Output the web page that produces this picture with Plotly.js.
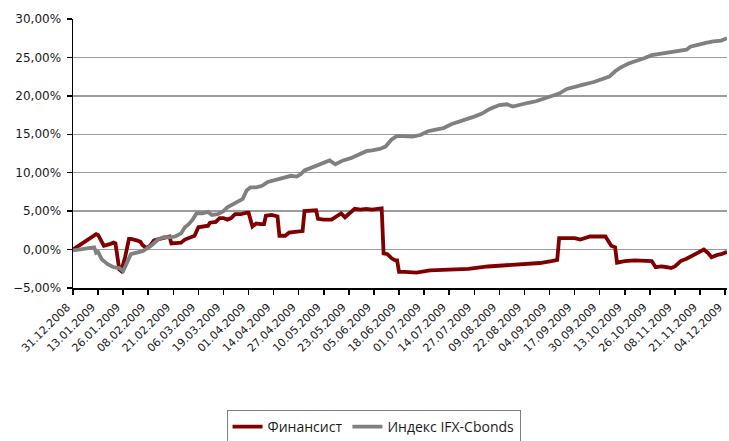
<!DOCTYPE html>
<html>
<head>
<meta charset="utf-8">
<script src="https://cdn.plot.ly/plotly-3.0.1.min.js"></script>
<style>html,body{margin:0;padding:0;background:#fff;}#chart{width:729px;height:441px;}</style>
</head>
<body>
<div id="chart"></div>
<script>
// Финансист
const finDates = ["2008-12-31","2009-01-05","2009-01-09","2009-01-12","2009-01-13","2009-01-16","2009-01-19","2009-01-21","2009-01-22","2009-01-24","2009-01-25","2009-01-27","2009-01-29","2009-01-30","2009-02-02","2009-02-04","2009-02-05","2009-02-07","2009-02-09","2009-02-11","2009-02-14","2009-02-17","2009-02-19","2009-02-20","2009-02-22","2009-02-25","2009-02-27","2009-03-02","2009-03-04","2009-03-06","2009-03-09","2009-03-11","2009-03-12","2009-03-15","2009-03-17","2009-03-19","2009-03-21","2009-03-23","2009-03-25","2009-03-28","2009-03-31","2009-04-01","2009-04-03","2009-04-05","2009-04-07","2009-04-09","2009-04-10","2009-04-13","2009-04-16","2009-04-17","2009-04-20","2009-04-22","2009-04-25","2009-04-28","2009-04-29","2009-04-30","2009-05-03","2009-05-06","2009-05-07","2009-05-10","2009-05-14","2009-05-16","2009-05-19","2009-05-21","2009-05-24","2009-05-26","2009-05-29","2009-06-01","2009-06-04","2009-06-07","2009-06-09","2009-06-10","2009-06-12","2009-06-14","2009-06-16","2009-06-17","2009-06-18","2009-06-21","2009-06-24","2009-06-27","2009-07-04","2009-07-14","2009-07-24","2009-08-03","2009-08-13","2009-08-23","2009-08-30","2009-09-05","2009-09-08","2009-09-09","2009-09-13","2009-09-17","2009-09-20","2009-09-23","2009-09-25","2009-09-29","2009-10-03","2009-10-06","2009-10-08","2009-10-09","2009-10-13","2009-10-18","2009-10-23","2009-10-27","2009-10-29","2009-11-01","2009-11-04","2009-11-06","2009-11-08","2009-11-11","2009-11-14","2009-11-17","2009-11-20","2009-11-23","2009-11-25","2009-11-27","2009-11-30","2009-12-02","2009-12-05"];
const finValues = [0.0,0.8,1.5,2.0,1.9,0.5,0.7,0.9,0.8,-2.6,-2.8,-1.0,1.4,1.4,1.2,1.0,0.6,0.2,0.5,1.2,1.4,1.6,1.7,0.8,0.8,0.9,1.3,1.6,1.8,2.9,3.0,3.1,3.5,3.6,4.1,4.1,3.9,4.1,4.6,4.6,4.8,4.8,3.0,3.4,3.3,3.3,4.4,4.5,4.3,1.8,1.8,2.2,2.3,2.3,2.4,5.0,5.0,5.1,4.0,3.9,3.9,4.2,4.7,4.2,4.8,5.3,5.2,5.3,5.2,5.3,5.35,-0.5,-0.6,-1.1,-1.4,-1.4,-2.9,-2.9,-2.9,-3.0,-2.7,-2.6,-2.5,-2.2,-2.0,-1.9,-1.75,-1.5,-1.35,1.5,1.5,1.5,1.3,1.5,1.7,1.7,1.7,0.5,0.3,-1.7,-1.5,-1.4,-1.4,-1.5,-2.3,-2.2,-2.3,-2.4,-2.2,-1.5,-1.2,-0.8,-0.5,0.0,-0.4,-1.0,-0.7,-0.6,-0.3];

// Индекс IFX-Cbonds
const ifxDates = ["2008-12-31","2009-01-05","2009-01-10","2009-01-11","2009-01-12","2009-01-13","2009-01-15","2009-01-18","2009-01-21","2009-01-24","2009-01-26","2009-01-28","2009-01-30","2009-02-02","2009-02-05","2009-02-07","2009-02-10","2009-02-13","2009-02-16","2009-02-19","2009-02-22","2009-02-25","2009-02-27","2009-03-01","2009-03-03","2009-03-05","2009-03-08","2009-03-11","2009-03-13","2009-03-16","2009-03-19","2009-03-21","2009-03-24","2009-03-26","2009-03-29","2009-03-31","2009-04-02","2009-04-05","2009-04-08","2009-04-11","2009-04-14","2009-04-17","2009-04-20","2009-04-23","2009-04-26","2009-04-28","2009-04-30","2009-05-04","2009-05-08","2009-05-11","2009-05-13","2009-05-16","2009-05-20","2009-05-24","2009-05-28","2009-06-01","2009-06-04","2009-06-08","2009-06-11","2009-06-14","2009-06-17","2009-06-21","2009-06-25","2009-06-29","2009-07-03","2009-07-07","2009-07-11","2009-07-15","2009-07-19","2009-07-23","2009-07-27","2009-07-31","2009-08-04","2009-08-09","2009-08-13","2009-08-16","2009-08-20","2009-08-24","2009-08-28","2009-09-01","2009-09-05","2009-09-09","2009-09-13","2009-09-17","2009-09-22","2009-09-27","2009-10-01","2009-10-05","2009-10-08","2009-10-11","2009-10-15","2009-10-19","2009-10-23","2009-10-27","2009-11-01","2009-11-06","2009-11-10","2009-11-14","2009-11-16","2009-11-20","2009-11-24","2009-11-28","2009-12-02","2009-12-05"];
const ifxValues = [-0.1,0.1,0.3,0.3,-0.4,-0.3,-1.3,-1.9,-2.3,-2.4,-2.8,-1.8,-0.6,-0.4,-0.2,0.1,0.6,1.3,1.6,1.6,1.7,2.1,2.9,3.3,3.9,4.7,4.7,4.9,4.5,4.6,5.0,5.5,5.9,6.2,6.6,7.7,8.1,8.1,8.3,8.8,9.0,9.3,9.5,9.6,9.5,9.8,10.3,10.7,11.1,11.4,11.6,11.1,11.6,11.9,12.4,12.8,12.9,13.1,13.4,14.3,14.8,14.8,14.7,14.9,15.4,15.6,15.8,16.3,16.6,16.9,17.3,17.7,18.3,18.8,18.9,18.6,18.9,19.1,19.3,19.6,20.0,20.3,20.9,21.2,21.5,21.8,22.2,22.5,23.2,23.7,24.2,24.5,24.9,25.3,25.5,25.7,25.9,26.0,26.4,26.7,26.9,27.1,27.2,27.5];

const seriesNames = ["Финансист", "Индекс IFX-Cbonds"];
const xStart = "2008-12-31";
const xEnd = "2009-12-05";

const tickFamily = "'DejaVu Sans'";

const traces = [
  {x: finDates, y: finValues, name: seriesNames[0], type: "scatter", mode: "lines",
   line: {color: "#800000", width: 3.8}},
  {x: ifxDates, y: ifxValues, name: seriesNames[1], type: "scatter", mode: "lines",
   line: {color: "#808080", width: 3.8}}
];

const layout = {
  width: 729, height: 441,
  margin: {l: 73, r: 2, t: 19, b: 153, pad: 0, autoexpand: false},
  paper_bgcolor: "#ffffff", plot_bgcolor: "#ffffff",
  separators: ", ",
  showlegend: true,
  font: {family: tickFamily, size: 11, color: "#1a1a1a"},
  xaxis: {
    type: "date",
    range: [xStart, xEnd],
    tick0: xStart,
    dtick: 13 * 86400000,
    tickformat: "%d.%m.%Y",
    tickangle: -45,
    ticklabeloverflow: "allow",
    ticklabelshift: -6,
    ticklabelstandoff: 2,
    ticks: "outside", ticklen: 5, tickwidth: 1.5, tickcolor: "#000",
    showline: true, linecolor: "#000", linewidth: 1.5,
    showgrid: false, zeroline: false,
    tickfont: {family: tickFamily, size: 11, color: "#1a1a1a"},
    fixedrange: true
  },
  yaxis: {
    range: [-5, 30],
    dtick: 5,
    tick0: 0,
    tickformat: ".2f",
    ticksuffix: "%",
    ticklabelstandoff: 3,
    ticks: "outside", ticklen: 5, tickwidth: 1.5, tickcolor: "#000",
    showline: true, linecolor: "#000", linewidth: 1.5,
    showgrid: true, gridcolor: "#9c9c9c", gridwidth: 1.5,
    zeroline: false,
    tickfont: {family: tickFamily, size: 12, color: "#1a1a1a"},
    fixedrange: true
  },
  legend: {
    orientation: "h",
    xref: "container", yref: "container",
    x: 0.5124, xanchor: "center",
    y: 0.0703, yanchor: "top",
    bordercolor: "#7f7f7f", borderwidth: 1,
    bgcolor: "#ffffff",
    font: {family: "'Open Sans'", size: 14, color: "#1a1a1a"},
    itemwidth: 30,
    traceorder: "normal"
  }
};

Plotly.newPlot("chart", traces, layout, {staticPlot: true, displayModeBar: false});
</script>
</body>
</html>
